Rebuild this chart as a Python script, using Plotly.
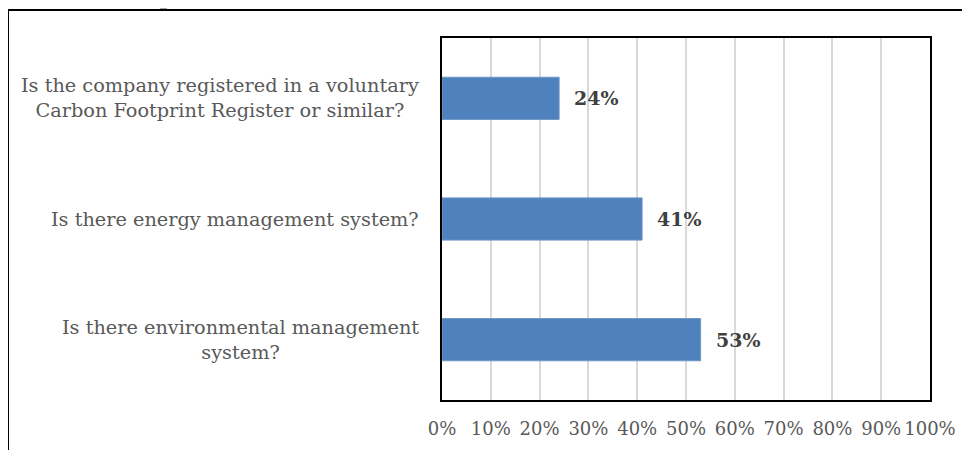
import plotly.graph_objects as go

categories = [
    "Is there environmental management<br>system?",
    "Is there energy management system?",
    "Is the company registered in a voluntary<br>Carbon Footprint Register or similar?",
]
values = [0.53, 0.41, 0.24]
tick_vals = [0, 0.1, 0.2, 0.3, 0.4, 0.5, 0.6, 0.7, 0.8, 0.9, 1.0]
tick_text = ["0%", "10%", "20%", "30%", "40%", "50%", "60%", "70%", "80%", "90%", "100%"]

FONT = "DejaVu Serif"
OFF = 8  # page body margin offset in the screenshot
W, H = 970, 450
# reference pixel positions
REF_L, REF_R, REF_T, REF_B = 442, 930, 38, 400
L, T = REF_L - OFF, REF_T - OFF
R = W - (REF_R - OFF)
B = H - (REF_B - OFF)
pw, ph = REF_R - REF_L, REF_B - REF_T

def px_x(p):
    return (p - REF_L) / pw

def px_y(p):
    return (REF_B - p) / ph

fig = go.Figure()
fig.add_trace(go.Bar(
    y=categories, x=values, orientation="h",
    marker=dict(color="#4f81bd", line=dict(color="#6f97c8", width=1)),
    width=0.35, hoverinfo="skip",
))

annotations = []
for c, v in zip(categories, values):
    annotations.append(dict(
        x=v, y=c, xref="x", yref="y", text="<b>%d%%</b>" % round(v * 100),
        showarrow=False, xanchor="left", xshift=13,
        font=dict(family=FONT, size=19, color="#404040"),
    ))
    annotations.append(dict(
        x=px_x(421), y=c, xref="paper", yref="y", text=c,
        showarrow=False, xanchor="right", align="center",
        font=dict(family=FONT, size=19.3, color="#595959"),
    ))

shapes = [
    dict(type="line", xref="paper", yref="paper", x0=px_x(8), x1=px_x(980),
         y0=px_y(10), y1=px_y(10), line=dict(color="#000000", width=2)),
    dict(type="line", xref="paper", yref="paper", x0=px_x(8), x1=px_x(8),
         y0=px_y(10), y1=px_y(460), line=dict(color="#000000", width=2)),
    dict(type="line", xref="paper", yref="paper", x0=px_x(160), x1=px_x(167),
         y0=px_y(8), y1=px_y(8), line=dict(color="#555555", width=1)),
]

fig.update_layout(
    width=W, height=H,
    margin=dict(l=L, r=R, t=T, b=B, pad=0),
    paper_bgcolor="white", plot_bgcolor="white",
    showlegend=False,
    annotations=annotations, shapes=shapes,
    xaxis=dict(
        range=[0, 1], tickvals=tick_vals, ticktext=tick_text,
        showgrid=True, gridcolor="#d9d9d9", gridwidth=1.5,
        showline=True, linecolor="#000000", linewidth=2, mirror=True,
        zeroline=False, ticks="", ticklabelstandoff=11,
        tickfont=dict(family=FONT, size=18, color="#595959"),
        fixedrange=True,
    ),
    yaxis=dict(
        categoryorder="array", categoryarray=categories,
        showticklabels=False, showgrid=False,
        showline=True, linecolor="#000000", linewidth=2, mirror=True,
        zeroline=False, ticks="", fixedrange=True,
    ),
)

fig.write_html("out.html")
